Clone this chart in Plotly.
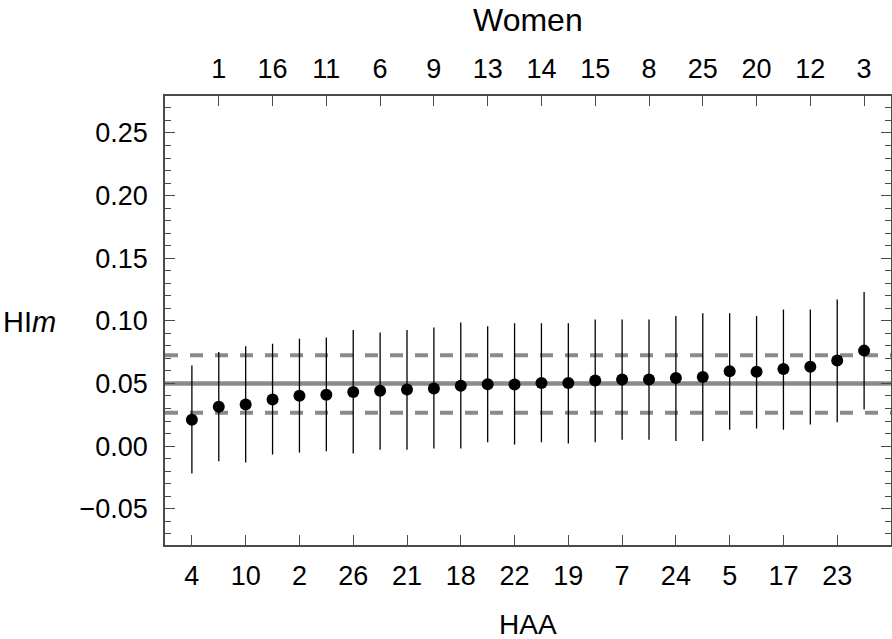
import plotly.graph_objects as go

# position along the x axis (sorted by HI_m)
positions = list(range(1, 27))
# IDs: HAA labels at odd positions (bottom), Women labels at even positions (top)
haa_labels = ["4", "10", "2", "26", "21", "18", "22", "19", "7", "24", "5", "17", "23"]
women_labels = ["1", "16", "11", "6", "9", "13", "14", "15", "8", "25", "20", "12", "3"]

hi_mean = [0.0210, 0.0314, 0.0332, 0.0372, 0.0402, 0.0410, 0.0431, 0.0442, 0.0452, 0.0460,
           0.0482, 0.0493, 0.0492, 0.0503, 0.0503, 0.0524, 0.0532, 0.0532, 0.0543, 0.0551,
           0.0597, 0.0594, 0.0615, 0.0634, 0.0684, 0.0762]
hi_upper = [0.0644, 0.0751, 0.0797, 0.0817, 0.0857, 0.0867, 0.0927, 0.0907, 0.0927, 0.0947,
            0.0987, 0.0957, 0.0980, 0.0980, 0.0980, 0.1010, 0.1010, 0.1010, 0.1039, 0.1060,
            0.1060, 0.1039, 0.1090, 0.1090, 0.1170, 0.1231]
hi_lower = [-0.0220, -0.0121, -0.0132, -0.0068, -0.0052, -0.0041, -0.0060, -0.0030, -0.0030, -0.0020,
            -0.0020, 0.0030, 0.0012, 0.0030, 0.0020, 0.0030, 0.0050, 0.0050, 0.0040, 0.0040,
            0.0130, 0.0140, 0.0130, 0.0172, 0.0191, 0.0292]

ref_mean = 0.05
ref_band = [0.0265, 0.0725]

y_ticks = [-0.05, 0.00, 0.05, 0.10, 0.15, 0.20, 0.25]
y_ticktext = ["\u22120.05", "0.00", "0.05", "0.10", "0.15", "0.20", "0.25"]

err_plus = [u - m for u, m in zip(hi_upper, hi_mean)]
err_minus = [m - l for m, l in zip(hi_mean, hi_lower)]

FONT = "Liberation Sans, Arial, sans-serif"
FRAME = "#4a4a4a"
GRAY = "#8a8a8a"

fig = go.Figure()

fig.add_trace(go.Scatter(
    x=positions, y=hi_mean, mode="markers",
    marker=dict(color="black", size=12),
    error_y=dict(type="data", symmetric=False, array=err_plus, arrayminus=err_minus,
                 color="black", thickness=1.3, width=0),
    showlegend=False, hoverinfo="x+y",
))
# dummy trace to attach the top axis
fig.add_trace(go.Scatter(x=[positions[0]], y=[None], xaxis="x2", mode="markers",
                         showlegend=False, hoverinfo="skip"))

# reference lines
fig.add_shape(type="line", xref="paper", x0=0, x1=1, yref="y", y0=ref_mean, y1=ref_mean,
              line=dict(color=GRAY, width=4.5), layer="below")
for v in ref_band:
    fig.add_shape(type="line", xref="paper", x0=0, x1=1, yref="y", y0=v, y1=v,
                  line=dict(color=GRAY, width=4, dash="13px,12px"), layer="below")

tickfont = dict(family=FONT, size=27, color="black")

fig.update_layout(
    width=892, height=639,
    margin=dict(l=165, r=1, t=96, b=94, autoexpand=False),
    paper_bgcolor="white", plot_bgcolor="white",
    font=dict(family=FONT, color="black"),
    xaxis=dict(
        range=[0, 27], tickmode="array",
        tickvals=positions[0::2], ticktext=haa_labels,
        ticks="inside", ticklen=10, tickwidth=1.3, tickcolor=FRAME,
        showline=True, linecolor=FRAME, linewidth=1.5, mirror=True,
        showgrid=False, zeroline=False, tickfont=tickfont,
        ticklabelstandoff=6,
    ),
    xaxis2=dict(
        overlaying="x", side="top", matches="x", range=[0, 27], tickmode="array",
        tickvals=positions[1::2], ticktext=women_labels,
        ticks="inside", ticklen=10, tickwidth=1.3, tickcolor=FRAME,
        showline=False, showgrid=False, zeroline=False, tickfont=tickfont,
        ticklabelstandoff=12,
    ),
    yaxis=dict(
        range=[-0.079, 0.2795], tickmode="array",
        tickvals=y_ticks, ticktext=y_ticktext,
        ticks="inside", ticklen=10, tickwidth=1.3, tickcolor=FRAME,
        minor=dict(dtick=0.01, tick0=0, ticks="inside", ticklen=6, tickwidth=1.1, tickcolor=FRAME),
        showline=True, linecolor=FRAME, linewidth=1.5, mirror="ticks",
        showgrid=False, zeroline=False, tickfont=tickfont,
        ticklabelstandoff=10,
    ),
    annotations=[
        dict(text="Women", xref="paper", yref="paper", x=0.5, y=1.169,
             showarrow=False, font=dict(family=FONT, size=32, color="black"),
             xanchor="center", yanchor="middle"),
        dict(text="HAA", xref="paper", yref="paper", x=0.5, y=-0.176,
             showarrow=False, font=dict(family=FONT, size=28, color="black"),
             xanchor="center", yanchor="middle"),
        dict(text="HI<i>m</i>", xref="paper", yref="paper", x=-0.1865, y=0.4967,
             showarrow=False, font=dict(family=FONT, size=29, color="black"),
             xanchor="center", yanchor="middle"),
    ],
)

fig.write_html("out.html", config={"displayModeBar": False},
               post_script="document.body.style.margin='0';document.body.style.overflow='hidden';")
